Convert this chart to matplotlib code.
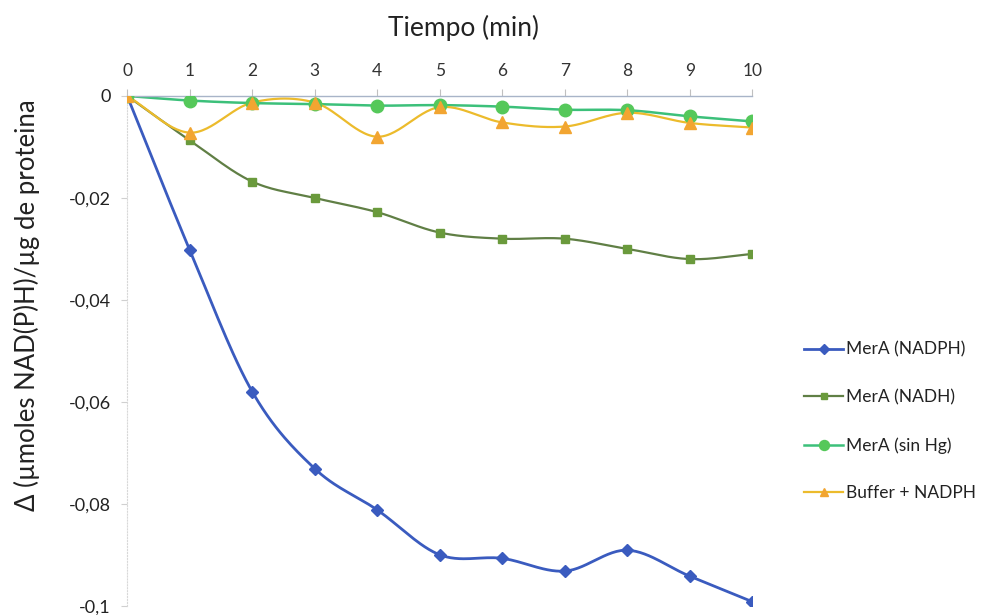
import numpy as np
import matplotlib.pyplot as plt
import matplotlib.ticker as ticker
from matplotlib import rcParams

rcParams['font.family'] = ['Lato', 'DejaVu Sans']

# tiempo (min)
tiempo = [0, 1, 2, 3, 4, 5, 6, 7, 8, 9, 10]

# delta umoles NAD(P)H / ug de proteina
mera_nadph = [0, -0.0302, -0.058, -0.0731, -0.0812, -0.0900, -0.0907, -0.0932, -0.0891, -0.0942, -0.0992]
mera_nadh = [0, -0.0087, -0.0168, -0.0200, -0.0228, -0.0268, -0.0280, -0.0280, -0.0300, -0.0320, -0.0310]
mera_sin_hg = [0, -0.0009, -0.0014, -0.0016, -0.0019, -0.0018, -0.0021, -0.0027, -0.0028, -0.0040, -0.0050]
buffer_nadph = [0, -0.0072, -0.0013, -0.0013, -0.0080, -0.0022, -0.0052, -0.0060, -0.0033, -0.0053, -0.0062]

nombres = ['MerA (NADPH)', 'MerA (NADH)', 'MerA (sin Hg)', 'Buffer + NADPH']


def suavizar(x, y, n=30):
    # curva Catmull-Rom entre puntos, como las lineas suavizadas de Excel
    x = np.asarray(x, float)
    y = np.asarray(y, float)
    px = np.concatenate([[2 * x[0] - x[1]], x, [2 * x[-1] - x[-2]]])
    py = np.concatenate([[2 * y[0] - y[1]], y, [2 * y[-1] - y[-2]]])
    xs, ys = [], []
    t = np.linspace(0, 1, n)
    for i in range(1, len(px) - 2):
        for p, out in ((px, xs), (py, ys)):
            p0, p1, p2, p3 = p[i - 1], p[i], p[i + 1], p[i + 2]
            out.extend(0.5 * ((2 * p1) + (-p0 + p2) * t
                              + (2 * p0 - 5 * p1 + 4 * p2 - p3) * t ** 2
                              + (-p0 + 3 * p1 - 3 * p2 + p3) * t ** 3))
    return np.array(xs), np.array(ys)


series = [
    (mera_nadph, '#3a5bbf', '#3a5bbf', 'D', 6, 2.0),
    (mera_nadh, '#607f45', '#6a9a3c', 's', 6, 1.6),
    (mera_sin_hg, '#3cc07a', '#55c85a', 'o', 9, 1.8),
    (buffer_nadph, '#ecbb2c', '#f2a531', '^', 8, 1.6),
]

fig1 = plt.figure(figsize=(9.86, 6.15), dpi=100)
ax1 = fig1.add_axes([0.129, 0.015, 0.634, 0.829])

handles = []
for (vals, lc, mc, mk, ms, lw), nombre in zip(series, nombres):
    sx, sy = suavizar(tiempo, vals)
    ax1.plot(sx, sy, color=lc, linewidth=lw, zorder=2)
    ax1.plot(tiempo, vals, linestyle='none', marker=mk, markersize=ms,
             color=mc, markeredgecolor=mc, zorder=3)
    h, = ax1.plot([], [], color=lc, linewidth=lw, marker=mk,
                  markersize=ms * 0.8, markerfacecolor=mc, markeredgecolor=mc, label=nombre)
    handles.append(h)

ax1.set_xlim(0, 10)
ax1.set_ylim(-0.1, 0)
ax1.xaxis.set_major_locator(ticker.MultipleLocator(1))
ax1.yaxis.set_major_locator(ticker.MultipleLocator(0.02))
ax1.yaxis.set_major_formatter(ticker.FuncFormatter(
    lambda v, p: '0' if abs(v) < 1e-9 else ('%.2f' % v).rstrip('0').replace('.', ',')))

ax1.xaxis.tick_top()
ax1.xaxis.set_label_position('top')
ax1.set_xlabel('Tiempo (min)', fontsize=19, color='#222222')
ax1.xaxis.set_label_coords(0.538, 1.118)
ax1.set_ylabel('\u0394 (\u00b5moles NAD(P)H)/\u00b5g de proteina', fontsize=18.5,
               color='#222222')
ax1.yaxis.set_label_coords(-0.14, 0.59)

for s in ['bottom', 'right']:
    ax1.spines[s].set_visible(False)
ax1.spines['top'].set_color('#a8b4c8')
ax1.spines['top'].set_linewidth(1.0)
ax1.spines['left'].set_color('#d8d8d8')
ax1.spines['left'].set_linestyle(':')

ax1.tick_params(axis='x', which='major', length=5, width=0.8, color='#c0c0c0',
                labelsize=12.5, labelcolor='#333333', pad=7)
ax1.tick_params(axis='y', which='major', length=4, width=0.8, color='#d0d0d0',
                labelsize=13, labelcolor='#222222', pad=8)

leg1 = fig1.legend(handles=handles, loc='upper left', bbox_to_anchor=(0.8, 0.47),
                   frameon=False, fontsize=12.5, handlelength=2.2, labelspacing=1.82,
                   handletextpad=0.2)
for t in leg1.get_texts():
    t.set_color('#222222')

fig1.savefig('out.png', dpi=100)
